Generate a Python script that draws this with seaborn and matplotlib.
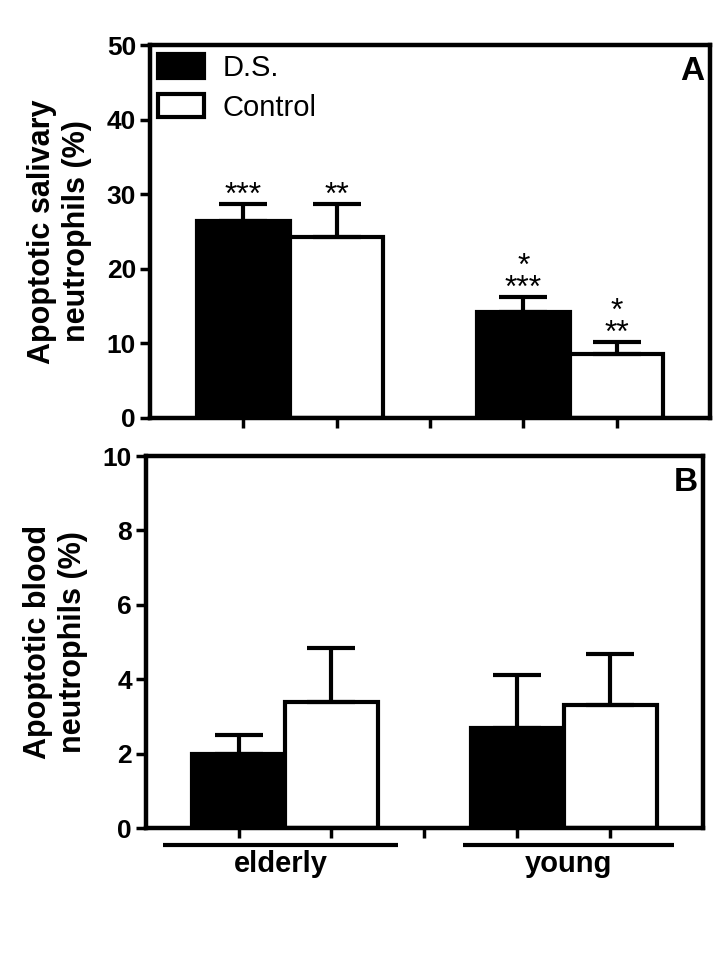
import numpy as np
import pandas as pd
import matplotlib
matplotlib.use('Agg')
import matplotlib.pyplot as plt
import matplotlib.patches as mpatches
import matplotlib.transforms as mtransforms
import seaborn as sns

# data (order: elderly D.S., elderly Control, young D.S., young Control)
groups = ['elderly', 'young']
series = ['D.S.', 'Control']
slot_order = ['elderly D.S.', 'elderly Control', 'gap', 'young D.S.', 'young Control']

salivary_mean = [26.4, 24.3, 14.2, 8.6]
salivary_sem = [2.3, 4.4, 2.0, 1.5]
salivary_stars = ['***', '**', '*\n***', '*\n**']

blood_mean = [2.0, 3.4, 2.7, 3.3]
blood_sem = [0.5, 1.45, 1.43, 1.38]

colors = {'D.S.': 'black', 'Control': 'white'}

sns.set_style('ticks')
plt.rcParams['font.family'] = ['Liberation Sans', 'DejaVu Sans']
for k in ['text.color', 'axes.labelcolor', 'xtick.color', 'ytick.color', 'axes.edgecolor']:
    plt.rcParams[k] = 'black'

rows = []
for g in groups:
    for s in series:
        rows.append({'group': g, 'series': s, 'slot': g + ' ' + s})
df = pd.DataFrame(rows)
df['salivary'] = salivary_mean
df['blood'] = blood_mean
xpos = [slot_order.index(s) for s in df['slot']]

fig = plt.figure(figsize=(7.2, 9.6), dpi=100)
axA = fig.add_axes([0.2083, 0.565, 0.7777, 0.388])
axB = fig.add_axes([0.2024, 0.1372, 0.7740, 0.3878])


def panel(ax, col, sem, ymax, step, ylabel, letter):
    sns.barplot(data=df, x='slot', y=col, hue='series', order=slot_order,
                palette=colors, dodge=False, width=1.0, edgecolor='black',
                linewidth=3, legend=False, ax=ax)
    ax.errorbar(xpos, df[col], yerr=[np.zeros(len(sem)), sem], fmt='none',
                ecolor='black', elinewidth=3, capsize=17.5, capthick=3, zorder=1)
    ax.set_xlim(-1.0, 5.0)
    ax.set_ylim(0, ymax)
    ax.set_yticks(np.arange(0, ymax + 0.1, step))
    ax.set_xticklabels([])
    ax.set_xlabel('')
    ax.set_ylabel(ylabel, fontsize=22, fontweight='bold', linespacing=1.2)
    ax.yaxis.set_label_coords(-0.104, 0.5)
    for sp in ax.spines.values():
        sp.set_visible(True)
        sp.set_linewidth(3.2)
        sp.set_color('black')
    ax.tick_params(axis='both', width=2.5, length=7, labelsize=19, pad=3, color='black')
    for lbl in ax.get_yticklabels():
        lbl.set_fontweight('bold')
    ax.text(0.99, 0.97, letter, transform=ax.transAxes, ha='right', va='top',
            fontsize=24, fontweight='bold')


panel(axA, 'salivary', salivary_sem, 50, 10,
      'Apoptotic salivary\nneutrophils (%)', 'A')
panel(axB, 'blood', blood_sem, 10, 2,
      'Apoptotic blood\nneutrophils (%)', 'B')

# significance marks above the salivary bars
for x, m, e, st in zip(xpos, salivary_mean, salivary_sem, salivary_stars):
    axA.annotate(st, (x, m + e), xytext=(0, -5), textcoords='offset points',
                 ha='center', va='bottom', fontsize=23, linespacing=0.65)

handles = [mpatches.Patch(facecolor=colors[s], edgecolor='black', linewidth=3, label=s)
           for s in series]
axA.legend(handles=handles, loc='upper left', bbox_to_anchor=(0.0143, 0.976),
           frameon=False, fontsize=21, handlelength=1.58, handleheight=0.86,
           handletextpad=0.64, labelspacing=0.4, borderpad=0, borderaxespad=0)

# group lines and labels under panel B
trans = mtransforms.blended_transform_factory(axB.transData, axB.transAxes)
group_spans = {'elderly': (-0.81, 1.72), 'young': (2.42, 4.69)}
for g in groups:
    x0, x1 = group_spans[g]
    axB.plot([x0, x1], [-0.045, -0.045], color='black', lw=3, transform=trans,
             clip_on=False, solid_capstyle='butt')
    axB.text((x0 + x1) / 2, -0.058, g, transform=trans, ha='center', va='top',
             fontsize=21, fontweight='bold')

fig.savefig('out.png', dpi=100)
